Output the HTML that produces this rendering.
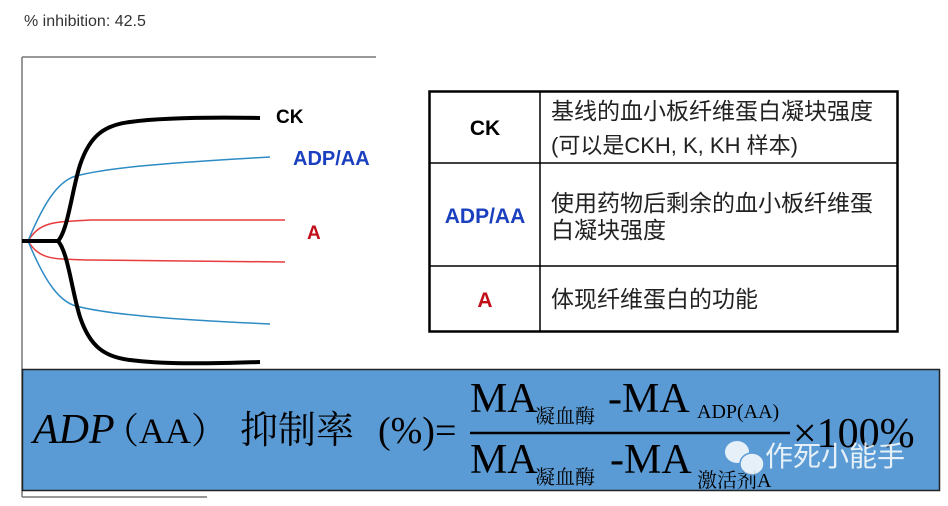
<!DOCTYPE html>
<html><head><meta charset="utf-8"><style>
html,body{margin:0;padding:0;background:#fff;width:948px;height:506px;overflow:hidden}
svg{display:block}
.ser{font-family:"Liberation Serif","Noto Serif CJK SC",serif}
.san{font-family:"Liberation Sans","Noto Sans CJK SC",sans-serif}
</style></head><body>
<svg width="948" height="506" viewBox="0 0 948 506" xmlns="http://www.w3.org/2000/svg">
<text x="24" y="26" class="san" font-size="16" fill="#333">% inhibition: 42.5</text>
<line x1="22" y1="57" x2="376" y2="57" stroke="#777" stroke-width="1.5"/>
<line x1="22" y1="57" x2="22" y2="497" stroke="#777" stroke-width="1.5"/>
<line x1="22" y1="497" x2="207" y2="497" stroke="#777" stroke-width="1.5"/>
<g fill="none">
<path d="M28 241 C40 222 52 222 90 220 L285 220" stroke="#e83c3c" stroke-width="1.5"/>
<path d="M28 241 C40 260 52 259 90 260 L285 262" stroke="#e83c3c" stroke-width="1.5"/>
<path d="M28 241 C45 200 60 178 80 175 C110 168 160 163 270 157" stroke="#2e8bc4" stroke-width="1.5"/>
<path d="M28 241 C45 282 60 304 80 307 C110 314 160 319 270 324" stroke="#2e8bc4" stroke-width="1.5"/>
<path d="M22 241 L58 241 C68 230 72 190 80 165 C90 135 105 125 130 122 C160 118 200 117 260 118" stroke="#000" stroke-width="4"/>
<path d="M58 241 C68 252 72 292 80 317 C90 347 105 357 130 360 C160 364 200 364 260 362" stroke="#000" stroke-width="4"/>
</g>
<text x="276" y="123" class="san" font-size="19" font-weight="bold" fill="#000">CK</text>
<text x="293" y="165" class="san" font-size="20" font-weight="bold" fill="#1a3fbf">ADP/AA</text>
<text x="307" y="239" class="san" font-size="19" font-weight="bold" fill="#c0101a">A</text>
<g stroke="#000" fill="none">
<rect x="429.5" y="91.5" width="468" height="240" stroke-width="2.5"/>
<line x1="540" y1="91" x2="540" y2="331" stroke-width="1.5"/>
<line x1="429" y1="163" x2="897" y2="163" stroke-width="1.5"/>
<line x1="429" y1="266" x2="897" y2="266" stroke-width="1.5"/>
</g>
<text x="485" y="135" text-anchor="middle" class="san" font-size="21" font-weight="bold">CK</text>
<text x="485" y="223" text-anchor="middle" class="san" font-size="21" font-weight="bold" fill="#1a3fbf">ADP/AA</text>
<text x="485" y="307" text-anchor="middle" class="san" font-size="21" font-weight="bold" fill="#c0101a">A</text>
<g class="san" font-size="23" fill="#222">
<text x="551" y="119">基线的血小板纤维蛋白凝块强度</text>
<text x="551" y="153" font-size="22">(可以是CKH, K, KH 样本)</text>
<text x="551" y="211">使用药物后剩余的血小板纤维蛋</text>
<text x="551" y="238">白凝块强度</text>
<text x="551" y="307">体现纤维蛋白的功能</text>
</g>
<rect x="22.5" y="369.5" width="917" height="121" fill="#5b9bd5" stroke="#222" stroke-width="1.5"/>
<g class="ser" fill="#000">
<text x="33" y="443" font-size="42" font-style="italic">ADP</text>
<text x="103" y="443" font-size="36">（AA）</text>
<text x="240" y="443" font-size="38">抑制率</text>
<text x="378" y="443" font-size="38">(%)=</text>
<line x1="470" y1="433" x2="790" y2="433" stroke="#000" stroke-width="2.5"/>
<text x="470" y="412" font-size="42">MA</text>
<text x="535" y="423" font-size="20">凝血酶</text>
<text x="608" y="412" font-size="42">-MA</text>
<text x="697" y="418" font-size="20">ADP(AA)</text>
<text x="470" y="473" font-size="42">MA</text>
<text x="535" y="484" font-size="20">凝血酶</text>
<text x="610" y="473" font-size="42">-MA</text>
<text x="697" y="487" font-size="20">激活剂A</text>
<text x="793" y="447" font-size="42">×100%</text>
</g>
<g fill="#fff" opacity="0.85">
<ellipse cx="737" cy="452" rx="12" ry="11"/>
<ellipse cx="752" cy="464" rx="12" ry="11" stroke="#5b9bd5" stroke-width="1.5"/>
</g>
<text x="765" y="466" class="san" font-size="28" fill="#fff" opacity="0.85">作死小能手</text>
</svg>
</body></html>
